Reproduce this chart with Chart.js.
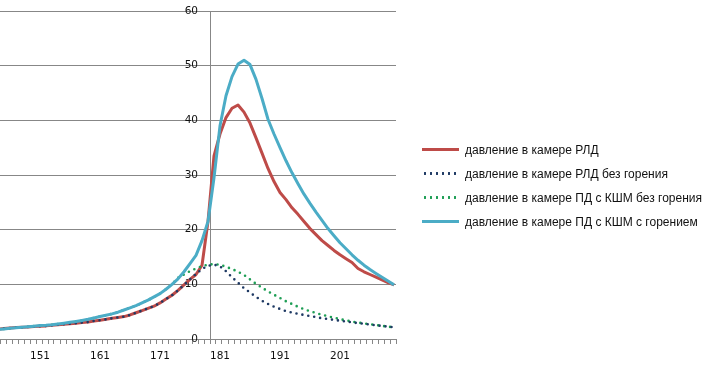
<!DOCTYPE html>
<html>
<head>
<meta charset="utf-8">
<script src="https://cdn.jsdelivr.net/npm/chart.js@4/dist/chart.umd.min.js"></script>
<style>
  html, body { margin: 0; padding: 0; background: #fff; }
  #wrap { width: 714px; height: 371px; position: relative; }
  #leyenda { position: absolute; left: 422px; top: 138px; margin: 0; padding: 0; list-style: none;
    font-family: 'Liberation Sans', Arial, sans-serif; font-size: 12px; color: #111; }
  #leyenda li { height: 24px; line-height: 24px; white-space: nowrap; }
  #leyenda .muestra { display: inline-block; width: 37px; height: 3px; vertical-align: middle;
    margin-right: 6px; position: relative; top: -1px; }
</style>
</head>
<body>
<div id="wrap"><canvas id="davlenie"></canvas><ul id="leyenda"></ul></div>
<script>
// ось X (номер точки)
const xValues = [144, 145, 146, 147, 148, 149, 150, 151, 152, 153, 154, 155, 156, 157, 158, 159,
  160, 161, 162, 163, 164, 165, 166, 167, 168, 169, 170, 171, 172, 173, 174, 175, 176, 177, 178, 179,
  180, 181, 182, 183, 184, 185, 186, 187, 188, 189, 190, 191, 192, 193, 194, 195, 196, 197, 198, 199,
  200, 201, 202, 203, 204, 205, 206, 207, 208, 209, 210];
const xTickLabels = [151, 161, 171, 181, 191, 201];
const yTicks = [0, 10, 20, 30, 40, 50, 60];

const seriesNames = [
  'давление в камере РЛД',
  'давление в камере РЛД без горения',
  'давление в камере ПД с КШМ без горения',
  'давление в камере ПД с КШМ с горением'
];

// давление в камере РЛД
const rld = [1.8, 1.9, 2.0, 2.1, 2.15, 2.2, 2.3, 2.35, 2.4, 2.5, 2.6, 2.7, 2.8, 2.9, 3.0, 3.1,
  3.3, 3.45, 3.6, 3.8, 3.95, 4.1, 4.4, 4.8, 5.2, 5.6, 6.0, 6.6, 7.3, 8.0, 8.9, 9.9, 10.9, 11.8, 13.5, 21.5,
  33.5, 37.5, 40.5, 42.2, 42.8, 41.5, 39.5, 36.8, 34.0, 31.2, 28.8, 26.8, 25.5, 24.0, 22.8, 21.5, 20.2, 19.1, 18.0, 17.1,
  16.2, 15.4, 14.7, 14.0, 12.9, 12.3, 11.8, 11.3, 10.8, 10.3, 9.9];

// давление в камере РЛД без горения
const rldNoBurn = [1.8, 1.9, 2.0, 2.1, 2.15, 2.2, 2.3, 2.35, 2.4, 2.5, 2.6, 2.7, 2.8, 2.9, 3.0, 3.1,
  3.3, 3.45, 3.6, 3.8, 3.95, 4.1, 4.4, 4.8, 5.2, 5.6, 6.0, 6.6, 7.3, 8.0, 8.9, 9.9, 10.9, 11.9, 12.8, 13.4,
  13.6, 13.3, 12.4, 11.3, 10.3, 9.3, 8.5, 7.7, 7.0, 6.4, 5.9, 5.5, 5.1, 4.85, 4.6, 4.4, 4.2, 4.0, 3.8, 3.65,
  3.5, 3.35, 3.2, 3.05, 2.9, 2.8, 2.65, 2.5, 2.4, 2.25, 2.15];

// давление в камере ПД с КШМ без горения
const pdNoBurn = [1.75, 1.85, 1.95, 2.05, 2.15, 2.25, 2.35, 2.45, 2.5, 2.6, 2.75, 2.9, 3.05, 3.2, 3.4, 3.6,
  3.85, 4.1, 4.35, 4.6, 4.9, 5.3, 5.7, 6.1, 6.6, 7.1, 7.7, 8.3, 9.1, 10.0, 11.2, 11.8, 12.4, 12.9, 13.3, 13.6,
  13.7, 13.6, 13.2, 12.8, 12.3, 11.7, 10.9, 10.1, 9.4, 8.7, 8.1, 7.5, 6.9, 6.4, 5.9, 5.45, 5.1, 4.75, 4.45, 4.15,
  3.9, 3.65, 3.4, 3.2, 3.0, 2.85, 2.7, 2.55, 2.4, 2.25, 2.15];

// давление в камере ПД с КШМ с горением
const pdBurn = [1.75, 1.85, 1.95, 2.05, 2.15, 2.25, 2.35, 2.45, 2.5, 2.6, 2.75, 2.9, 3.05, 3.2, 3.4, 3.6,
  3.85, 4.1, 4.35, 4.6, 4.9, 5.3, 5.7, 6.1, 6.6, 7.1, 7.7, 8.3, 9.1, 10.0, 11.0, 12.3, 13.8, 15.3, 18.0, 21.5,
  29.5, 39.0, 44.5, 48.0, 50.3, 51.0, 50.2, 47.5, 44.0, 40.2, 37.5, 35.0, 32.6, 30.4, 28.4, 26.5, 24.8, 23.2, 21.7, 20.2,
  18.9, 17.6, 16.5, 15.4, 14.4, 13.5, 12.7, 12.0, 11.3, 10.6, 9.9];

const X_MIN = 144 + 1 / 3;
const X_MAX = 210 + 1 / 3;
const Y_AXIS_AT = 179 + 1 / 3;   // donde cruza el eje vertical
const gridColor = '#878787';
const tickFont = { family: 'DejaVu Sans', size: 10.5 };

function puntos(serie) {
  return xValues.map((x, i) => ({ x: x, y: serie[i] }));
}

function linea(i, serie, color, punteada, orden) {
  return {
    label: seriesNames[i],
    data: puntos(serie),
    borderColor: color,
    backgroundColor: color,
    borderWidth: punteada ? 2.6 : 3,
    borderDash: punteada ? [0, 6] : [],
    borderCapStyle: punteada ? 'round' : 'butt',
    borderJoinStyle: 'round',
    pointRadius: 0,
    tension: 0,
    order: orden
  };
}

// sin margenes extra de las escalas
function sinPadding(axis) {
  axis.paddingTop = 0;
  axis.paddingBottom = 0;
  axis.paddingLeft = 0;
  axis.paddingRight = 0;
}

// leyenda en HTML a partir de los datasets del grafico
const leyendaHtml = {
  id: 'leyendaHtml',
  afterUpdate(chart) {
    const ul = document.getElementById('leyenda');
    ul.innerHTML = '';
    chart.data.datasets.forEach((ds) => {
      const li = document.createElement('li');
      const m = document.createElement('span');
      m.className = 'muestra';
      if (ds.borderDash.length) {
        m.style.background = 'radial-gradient(circle, ' + ds.borderColor + ' 1.1px, transparent 1.5px) 0 0 / 6px 3px repeat-x';
      } else {
        m.style.background = ds.borderColor;
      }
      li.appendChild(m);
      li.appendChild(document.createTextNode(ds.label));
      ul.appendChild(li);
    });
  }
};

const ctx = document.getElementById('davlenie').getContext('2d');
const grafico = new Chart(ctx, {
  type: 'line',
  data: {
    datasets: [
      linea(0, rld, '#BE4B48', false, 3),
      linea(1, rldNoBurn, '#1F3A64', true, 1),
      linea(2, pdNoBurn, '#1E9E55', true, 2),
      linea(3, pdBurn, '#4BACC6', false, 0)
    ]
  },
  plugins: [leyendaHtml],
  options: {
    responsive: true,
    maintainAspectRatio: false,
    animation: false,
    layout: { padding: { top: 11, bottom: 0, left: 0, right: 318 } },
    plugins: {
      tooltip: { enabled: false },
      legend: { display: false }
    },
    scales: {
      x: {
        type: 'linear',
        position: 'bottom',
        min: X_MIN,
        max: X_MAX,
        afterBuildTicks: (axis) => {
          const t = [];
          for (let k = 0; k <= 66; k++) t.push({ value: X_MIN + k });
          axis.ticks = t;
        },
        afterFit: (axis) => { axis.height = 32; sinPadding(axis); },
        grid: { drawOnChartArea: false, tickLength: 5, color: gridColor },
        border: { color: gridColor },
        ticks: {
          autoSkip: false,
          maxRotation: 0,
          minRotation: 0,
          labelOffset: 10,
          padding: 6,
          color: '#111',
          font: tickFont,
          callback: (v) => {
            const lab = Math.round(v + 5 / 3);
            return xTickLabels.includes(lab) ? String(lab) : '';
          }
        }
      },
      // rejilla horizontal y etiquetas (un poco a la izquierda del eje)
      y: {
        position: { x: Y_AXIS_AT - 2 },
        min: 0,
        max: 60,
        afterBuildTicks: (axis) => { axis.ticks = yTicks.map(v => ({ value: v })); },
        afterFit: sinPadding,
        grid: { color: gridColor, drawTicks: false },
        border: { display: false },
        ticks: { padding: 0, color: '#111', font: tickFont }
      },
      // linea del eje vertical
      yEje: {
        type: 'linear',
        position: { x: Y_AXIS_AT },
        min: 0,
        max: 60,
        afterFit: sinPadding,
        grid: { display: false },
        border: { display: true, color: gridColor },
        ticks: { display: false }
      }
    }
  }
});
</script>
</body>
</html>
